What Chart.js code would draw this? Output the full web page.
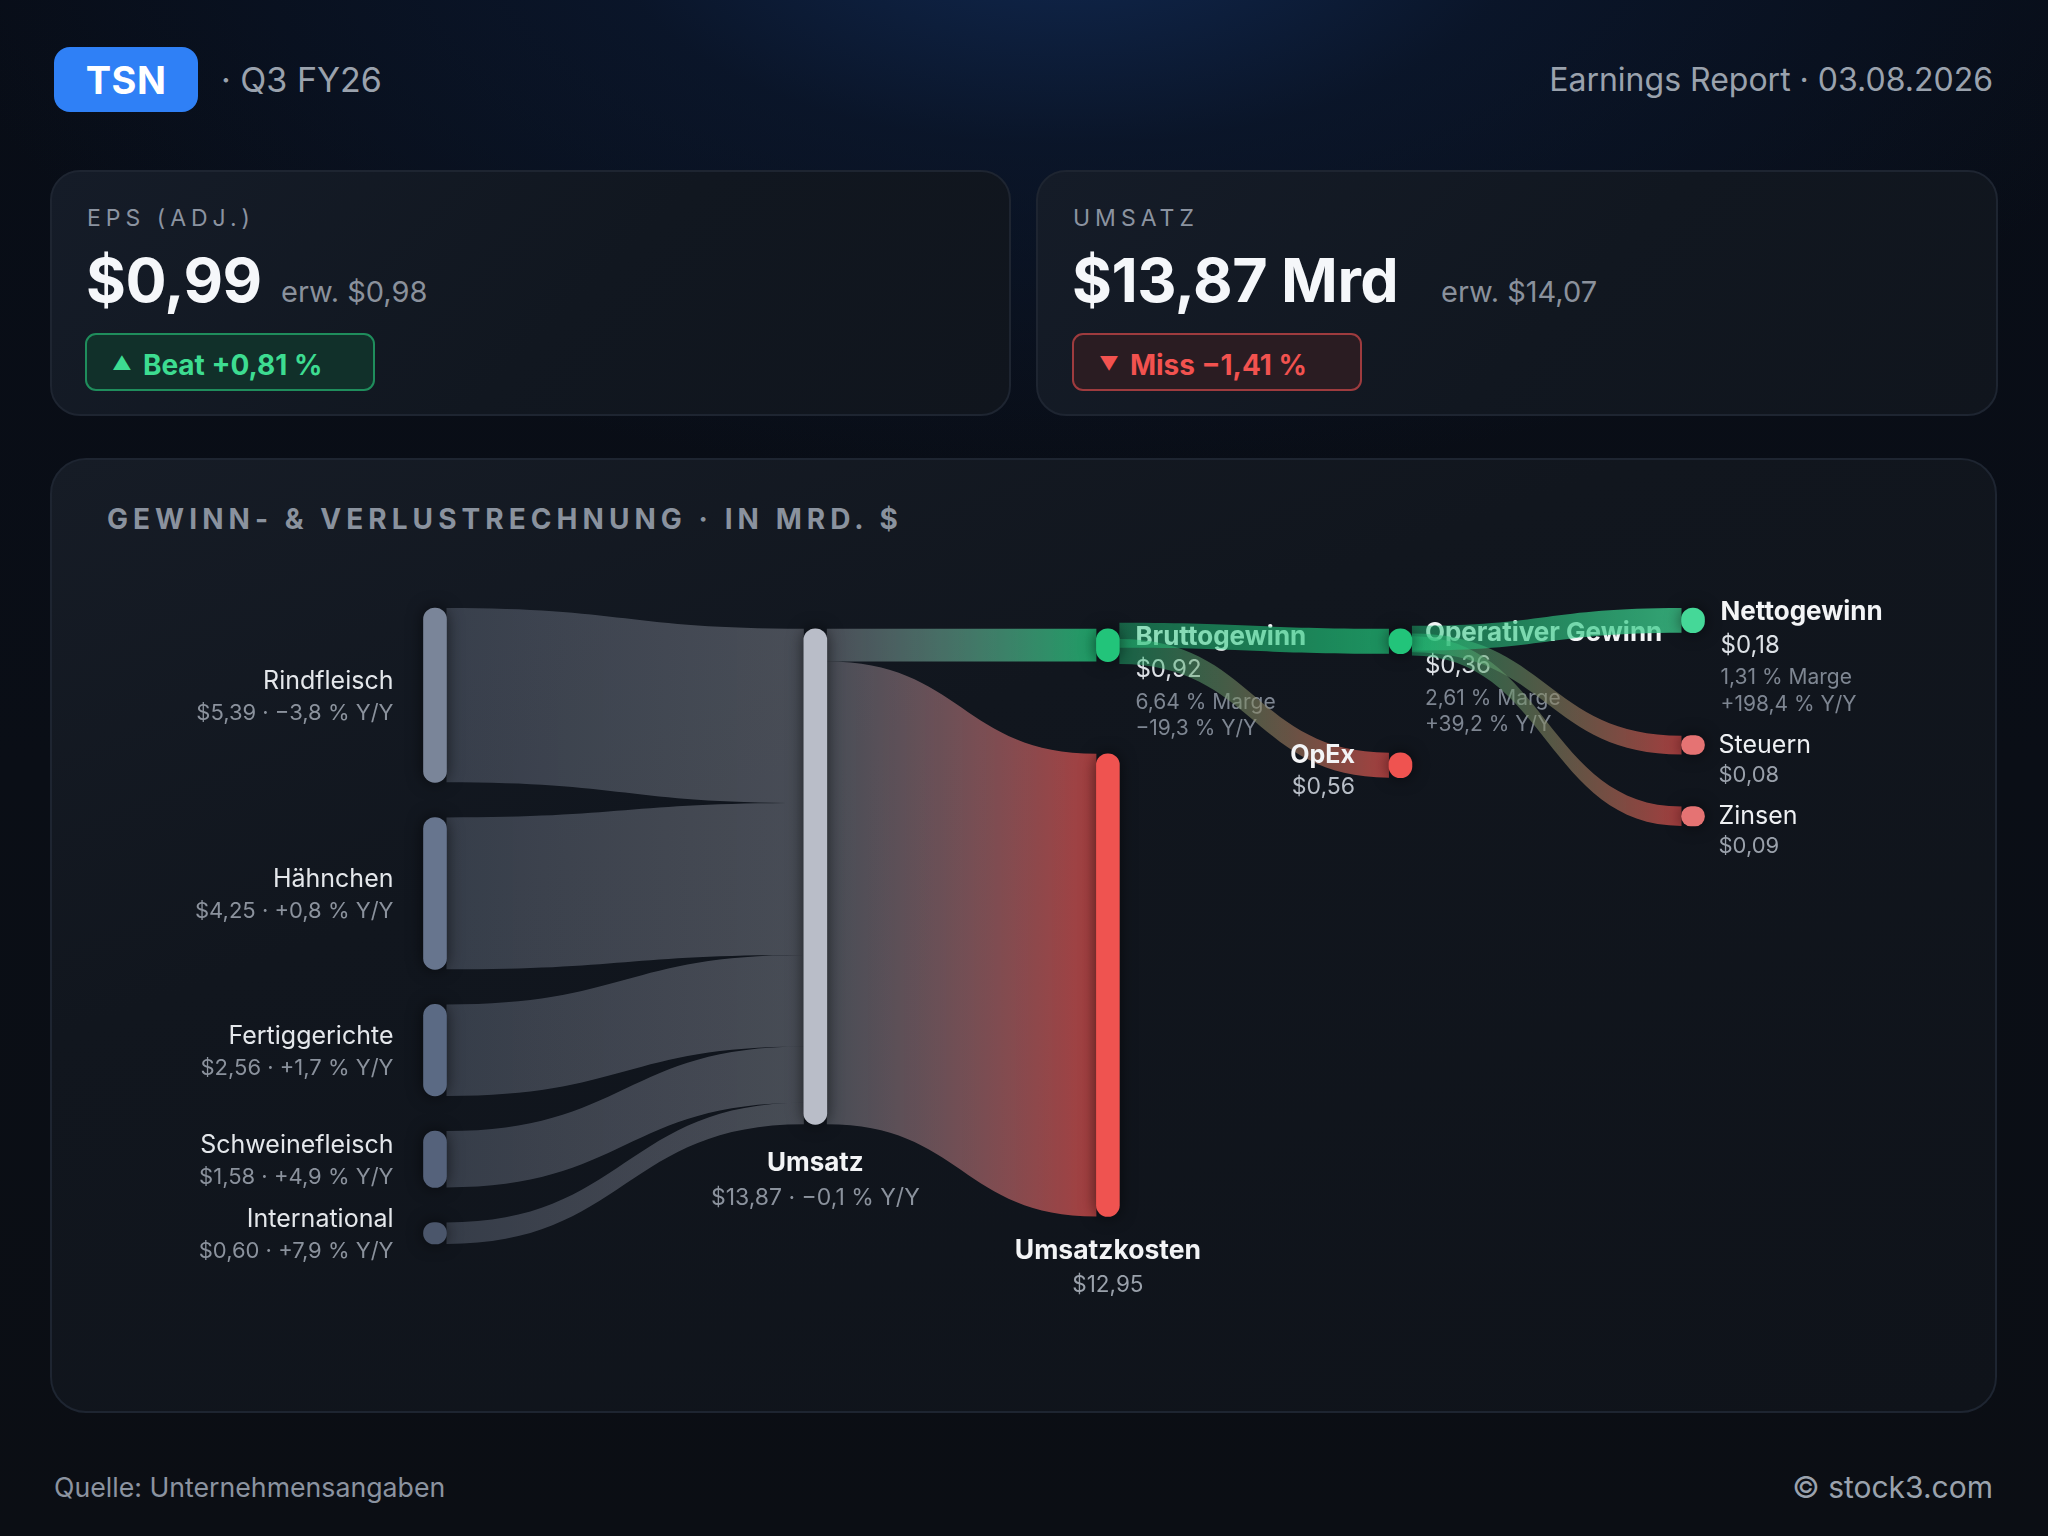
<!DOCTYPE html>
<html lang="de">
<head>
<meta charset="utf-8">
<title>TSN · Q3 FY26 · Earnings Report</title>
<script src="https://cdn.jsdelivr.net/npm/chart.js@4.4.1/dist/chart.umd.min.js"></script>
<style>
html,body{margin:0;padding:0}
body{width:2048px;height:1536px;position:relative;overflow:hidden;font-family:Inter,"Noto Sans",sans-serif;
background:radial-gradient(ellipse 1150px 560px at 52% -80px, rgba(17,42,84,0.95) 0%, rgba(12,28,56,0.55) 40%, rgba(10,16,28,0) 100%), linear-gradient(180deg,#080d17 0%,#0a0e16 50%,#0b0e14 100%);}
.a{position:absolute;white-space:nowrap;line-height:1}
#badge{left:54px;top:47px;width:144px;height:65px;border-radius:16px;background:#2f80f6;color:#fff;font-weight:700;font-size:38px;display:flex;align-items:center;justify-content:center;letter-spacing:0.5px}
#period{left:221px;top:63px;font-size:34px;color:#9aa2ad}
#report{right:55px;top:64px;font-size:32px;color:#9aa2ad}
.card{position:absolute;box-sizing:border-box;border:2px solid #1e2531;border-radius:30px;background:linear-gradient(135deg,#151c28 0%,#111720 55%,#10151d 100%)}
#c1{left:50px;top:170px;width:961px;height:246px}
#c2{left:1036px;top:170px;width:962px;height:246px}
.klabel{font-size:23px;letter-spacing:5px;color:#8b93a0}
.kval{font-size:61px;font-weight:700;color:#f5f7fa;letter-spacing:-0.5px}
.kexp{font-size:29px;color:#8a919c}
.pill{position:absolute;box-sizing:border-box;height:58px;width:290px;border-radius:11px;border:2px solid;display:flex;align-items:center;padding-left:25px;padding-top:5px;font-size:28px;font-weight:700;line-height:1;white-space:nowrap}
.beat{background:#11302a;border-color:#1f8d5c;color:#3ddc91}
.miss{background:#2a1c22;border-color:#9e3b3e;color:#f2524f}
.tri{font-size:19px;margin-right:11px;position:relative;top:-1px}
#chartcard{left:50px;top:458px;width:1947px;height:955px;border-radius:36px;background:linear-gradient(160deg,#161c26 0%,#11161e 35%,#0f131a 100%)}
#ctitle{left:107px;top:505px;font-size:28px;font-weight:700;letter-spacing:5.05px;color:#8a929e}
#sankey{position:absolute;left:50px;top:458px;width:1947px;height:955px}
#src{left:54px;top:1474px;font-size:26.7px;color:#8b93a0}
#copy{right:55px;top:1472px;font-size:30px;color:#9aa2ad}
</style>
</head>
<body>
<div id="badge" class="a">TSN</div>
<div id="period" class="a">· Q3 FY26</div>
<div id="report" class="a">Earnings Report · 03.08.2026</div>

<div id="c1" class="card"></div>
<div id="c2" class="card"></div>
<div id="k1l" class="a klabel" style="left:87px;top:207px"></div>
<div id="k1v" class="a kval" style="left:86px;top:250px"></div>
<div id="k1e" class="a kexp" style="left:281px;top:277px"></div>
<div id="k1p" class="pill beat" style="left:85px;top:333px"></div>
<div id="k2l" class="a klabel" style="left:1073px;top:207px"></div>
<div id="k2v" class="a kval" style="left:1072px;top:250px"></div>
<div id="k2e" class="a kexp" style="left:1441px;top:277px"></div>
<div id="k2p" class="pill miss" style="left:1072px;top:333px"></div>

<div id="chartcard" class="card"></div>
<div id="ctitle" class="a">GEWINN- &amp; VERLUSTRECHNUNG · IN MRD. $</div>
<canvas id="sankey" width="1947" height="955"></canvas>

<div id="src" class="a">Quelle: Unternehmensangaben</div>
<div id="copy" class="a">© stock3.com</div>

<script>
// ================= DATA =================
// KPI cards
const kpiTitles   = ['EPS (ADJ.)', 'UMSATZ'];
const kpiActual   = [0.99, 13.87];
const kpiExpected = [0.98, 14.07];
const kpiSurprise = [0.81, -1.41];
const kpiUnit     = ['', ' Mrd'];

// Revenue segments (Mrd $)
const segmentNames   = ['Rindfleisch', 'Hähnchen', 'Fertiggerichte', 'Schweinefleisch', 'International'];
const segmentRevenue = [5.39, 4.25, 2.56, 1.58, 0.60];   // labelled values
const segmentFlow    = [4.88, 4.25, 2.56, 1.58, 0.60];   // band sizes as drawn into Umsatz
const segmentYoY     = [-3.8, 0.8, 1.7, 4.9, 7.9];

// P&L nodes (Mrd $)
const plNames  = ['Umsatz', 'Umsatzkosten', 'Bruttogewinn', 'OpEx', 'Operativer Gewinn', 'Nettogewinn', 'Steuern', 'Zinsen'];
const plValues = [13.87, 12.95, 0.92, 0.56, 0.36, 0.18, 0.08, 0.09];
const plMargin = [null, null, 6.64, null, 2.61, 1.31, null, null];
const plYoY    = [-0.1, null, -19.3, null, 39.2, 198.4, null, null];

// P&L flows
const flowFrom   = ['Umsatz', 'Umsatz', 'Bruttogewinn', 'Bruttogewinn', 'Operativer Gewinn', 'Operativer Gewinn', 'Operativer Gewinn'];
const flowTo     = ['Bruttogewinn', 'Umsatzkosten', 'Operativer Gewinn', 'OpEx', 'Nettogewinn', 'Steuern', 'Zinsen'];
const flowValues = [0.92, 12.95, 0.36, 0.56, 0.18, 0.08, 0.09];

// ================= FORMAT =================
const MINUS = '\u2212';
const fmtMoney  = v => '$' + v.toFixed(2).replace('.', ',');
const fmtSigned = (v, d) => (v < 0 ? MINUS : '+') + Math.abs(v).toFixed(d).replace('.', ',');
const fmtYoY    = v => fmtSigned(v, 1) + ' % Y/Y';
const fmtMargin = v => v.toFixed(2).replace('.', ',') + ' % Marge';

// KPI cards text
[0, 1].forEach(i => {
  const k = i + 1;
  document.getElementById('k' + k + 'l').textContent = kpiTitles[i];
  document.getElementById('k' + k + 'v').textContent = fmtMoney(kpiActual[i]) + kpiUnit[i];
  document.getElementById('k' + k + 'e').textContent = 'erw. ' + fmtMoney(kpiExpected[i]);
  const p = document.getElementById('k' + k + 'p');
  const beat = kpiSurprise[i] >= 0;
  p.innerHTML = '<span class="tri">' + (beat ? '▲' : '▼') + '</span>' +
    (beat ? 'Beat ' : 'Miss ') + fmtSigned(kpiSurprise[i], 2) + ' %';
});

// ================= LAYOUT (styles / geometry rules) =================
const COL_X   = [0, 1.3, 2.3, 3.3, 4.3];          // column positions on the x scale
const X_MAX   = 4.3;
const Y_MAX   = 17.8;                              // visible value range of the y scale
const COL_TOP = [0, 0.58, 0.58, 0.58, 0];
const COL_GAP = [null, [], [2.58], [2.77], [2.88, 1.46]];
const NODE_W  = 23;
const detailSize = v => Math.max(v, Math.min(0.70, 0.39 + 1.68 * v)); // min visual size for small items

const columns = [segmentNames, ['Umsatz'], ['Bruttogewinn', 'Umsatzkosten'], ['Operativer Gewinn', 'OpEx'], ['Nettogewinn', 'Steuern', 'Zinsen']];

const NODE_FILL = {
  'Rindfleisch': '#7a8599', 'Hähnchen': '#67758e', 'Fertiggerichte': '#5b6a84', 'Schweinefleisch': '#55627b', 'International': '#4b566b',
  'Umsatz': '#b9bdc8', 'Umsatzkosten': '#ef5350', 'Bruttogewinn': '#22c47a', 'OpEx': '#ef5350',
  'Operativer Gewinn': '#22c47a', 'Nettogewinn': '#45d898', 'Steuern': '#e57373', 'Zinsen': '#e57373'
};
const SEG_OUT = 'rgba(122,132,152,0.36)';
const LINK_OUT = { 'Umsatz': 'rgba(185,189,200,0.33)', 'Bruttogewinn': 'rgba(34,196,122,0.45)', 'Operativer Gewinn': 'rgba(34,196,122,0.48)' };
const LINK_IN = {
  'Umsatz': 'rgba(185,189,200,0.33)', 'Bruttogewinn': 'rgba(34,196,122,0.78)', 'Umsatzkosten': 'rgba(239,83,80,0.68)',
  'Operativer Gewinn': 'rgba(34,196,122,0.72)', 'OpEx': 'rgba(239,83,80,0.68)', 'Nettogewinn': 'rgba(62,206,142,0.78)',
  'Steuern': 'rgba(239,83,80,0.66)', 'Zinsen': 'rgba(239,83,80,0.66)'
};

// ---- build nodes ----
const nodes = {};
columns.forEach((names, c) => names.forEach((n, i) => { nodes[n] = { name: n, col: c, idx: i }; }));
segmentNames.forEach((n, i) => { nodes[n].value = segmentFlow[i]; });
plNames.forEach((n, i) => { nodes[n].value = plValues[i]; });
Object.values(nodes).forEach(nd => { nd.size = nd.col >= 2 ? detailSize(nd.value) : nd.value; });
columns.forEach((names, c) => {
  if (c === 0) {
    const total = names.reduce((s, n) => s + nodes[n].size, 0);
    const gap = (Y_MAX - total) / (names.length - 1);
    let y = 0;
    names.forEach(n => { nodes[n].top = y; y += nodes[n].size + gap; });
  } else {
    let y = COL_TOP[c];
    names.forEach((n, i) => { if (i > 0) y += COL_GAP[c][i - 1]; nodes[n].top = y; y += nodes[n].size; });
  }
});
Object.values(nodes).forEach(nd => { nd.bottom = nd.top + nd.size; nd.center = nd.top + nd.size / 2; });

// ---- build links ----
const links = segmentNames.map((n, i) => ({ from: nodes[n], to: nodes['Umsatz'], value: segmentFlow[i] }))
  .concat(flowFrom.map((f, i) => ({ from: nodes[f], to: nodes[flowTo[i]], value: flowValues[i] })));
links.forEach(l => { l.width = l.to.col >= 2 ? detailSize(l.value) : l.value; });
Object.values(nodes).forEach(nd => {
  const outs = links.filter(l => l.from === nd), ins = links.filter(l => l.to === nd);
  let y = nd.center - outs.reduce((s, l) => s + l.value, 0) / 2;
  outs.forEach(l => { l.sy = y + l.value / 2; y += l.value; });
  y = nd.center - ins.reduce((s, l) => s + l.value, 0) / 2;
  ins.forEach(l => { l.ty = y + l.value / 2; y += l.value; });
});

// ---- node bars (dataset) ----
const nodeList = columns.flat().map(n => nodes[n]);
const nodeBars = nodeList.map(nd => ({ x: COL_X[nd.col], y: [nd.top, nd.bottom] }));
const nodeColors = nodeList.map(nd => NODE_FILL[nd.name]);

// ---- labels ----
function labelSpec(nd) {
  const n = nd.name;
  if (nd.col === 0) {
    const i = segmentNames.indexOf(n);
    return { side: 'left', pad: 30, ref: 'center', lines: [
      [n, 400, 25, '#e4e7eb', -15],
      [fmtMoney(segmentRevenue[i]) + ' · ' + fmtYoY(segmentYoY[i]), 400, 22, '#8b929d', 17]] };
  }
  const i = plNames.indexOf(n);
  if (n === 'Umsatz') return { side: 'below', ref: 'bottom', lines: [
      [n, 700, 26, '#f3f4f6', 37], [fmtMoney(plValues[i]) + ' · ' + fmtYoY(plYoY[i]), 400, 23, '#8b929d', 72]] };
  if (n === 'Umsatzkosten') return { side: 'below', ref: 'bottom', lines: [
      [n, 700, 26.5, '#f3f4f6', 33], [fmtMoney(plValues[i]), 400, 22.5, '#9aa1ab', 67]] };
  if (n === 'OpEx') return { side: 'left', pad: 34, ref: 'center', lines: [
      [n, 700, 25, '#f3f4f6', -11.5], [fmtMoney(plValues[i]), 400, 23, '#b8bec7', 20.5]] };
  if (plMargin[i] !== null) return { side: 'right', pad: n === 'Operativer Gewinn' ? 13 : 16, ref: 'center', lines: [
      [n, 700, 26, '#f3f4f6', -10], [fmtMoney(plValues[i]), 400, 24, '#dde1e6', 23.5],
      [fmtMargin(plMargin[i]), 400, 21, '#7e8692', 56], [fmtYoY(plYoY[i]), 400, 21, '#7e8692', 82.5]] };
  return { side: 'right', pad: 14, ref: 'center', lines: [
      [n, 400, 25, '#eef0f3', -1.5], [fmtMoney(plValues[i]), 400, 22, '#9aa1ab', 28.5]] };
}

function drawLabel(ctx, nd, xs, ys) {
  const spec = labelSpec(nd);
  const xc = xs.getPixelForValue(COL_X[nd.col]);
  const base = ys.getPixelForValue(spec.ref === 'bottom' ? nd.bottom : nd.center);
  let x, align;
  if (spec.side === 'left') { x = xc - NODE_W / 2 - spec.pad; align = 'right'; }
  else if (spec.side === 'right') { x = xc + NODE_W / 2 + spec.pad; align = 'left'; }
  else { x = xc; align = 'center'; }
  ctx.textAlign = align;
  ctx.textBaseline = 'alphabetic';
  spec.lines.forEach(([t, w, s, col, dy]) => {
    ctx.font = w + ' ' + s + 'px Inter, "Noto Sans", sans-serif';
    ctx.fillStyle = col;
    ctx.fillText(t, x, base + dy + 0.364 * s);
  });
}

function drawLink(ctx, l, xs, ys) {
  const x0 = xs.getPixelForValue(COL_X[l.from.col]) + NODE_W / 2;
  const x1 = xs.getPixelForValue(COL_X[l.to.col]) - NODE_W / 2;
  const h = l.width / 2;
  const a0 = ys.getPixelForValue(l.sy - h), b0 = ys.getPixelForValue(l.sy + h);
  const a1 = ys.getPixelForValue(l.ty - h), b1 = ys.getPixelForValue(l.ty + h);
  const xm = (x0 + x1) / 2;
  const g = ctx.createLinearGradient(x0, 0, x1, 0);
  g.addColorStop(0, l.from.col === 0 ? SEG_OUT : LINK_OUT[l.from.name]);
  g.addColorStop(1, LINK_IN[l.to.name]);
  ctx.beginPath();
  ctx.moveTo(x0, a0);
  ctx.bezierCurveTo(xm, a0, xm, a1, x1, a1);
  ctx.lineTo(x1, b1);
  ctx.bezierCurveTo(xm, b1, xm, b0, x0, b0);
  ctx.closePath();
  ctx.fillStyle = g;
  ctx.fill();
}

const sankeyPlugin = {
  id: 'sankeyFlows',
  beforeDatasetsDraw(chart) {
    const ctx = chart.ctx, xs = chart.scales.x, ys = chart.scales.y;
    ctx.save();
    columns.forEach((names, c) => {
      links.filter(l => l.to.col === c).reverse().forEach(l => drawLink(ctx, l, xs, ys));
      names.forEach(n => drawLabel(ctx, nodes[n], xs, ys));
    });
    ctx.restore();
  },
  beforeDatasetDraw(chart) {
    const ctx = chart.ctx;
    ctx.save();
    ctx.shadowColor = 'rgba(0,0,0,0.6)';
    ctx.shadowBlur = 16;
  },
  afterDatasetDraw(chart) { chart.ctx.restore(); }
};

new Chart(document.getElementById('sankey'), {
  type: 'bar',
  data: {
    datasets: [{
      label: 'Knoten',
      data: nodeBars,
      backgroundColor: nodeColors,
      barThickness: NODE_W,
      borderRadius: 12,
      borderSkipped: false,
      borderWidth: 0,
      clip: false
    }]
  },
  options: {
    responsive: false,
    animation: false,
    events: [],
    layout: { padding: { left: 385, right: 304, top: 150, bottom: 169 } },
    scales: {
      x: { type: 'linear', min: 0, max: X_MAX, offset: false, display: false },
      y: { type: 'linear', min: 0, max: Y_MAX, reverse: true, display: false }
    },
    plugins: { legend: { display: false }, tooltip: { enabled: false } }
  },
  plugins: [sankeyPlugin]
});
</script>
</body>
</html>
